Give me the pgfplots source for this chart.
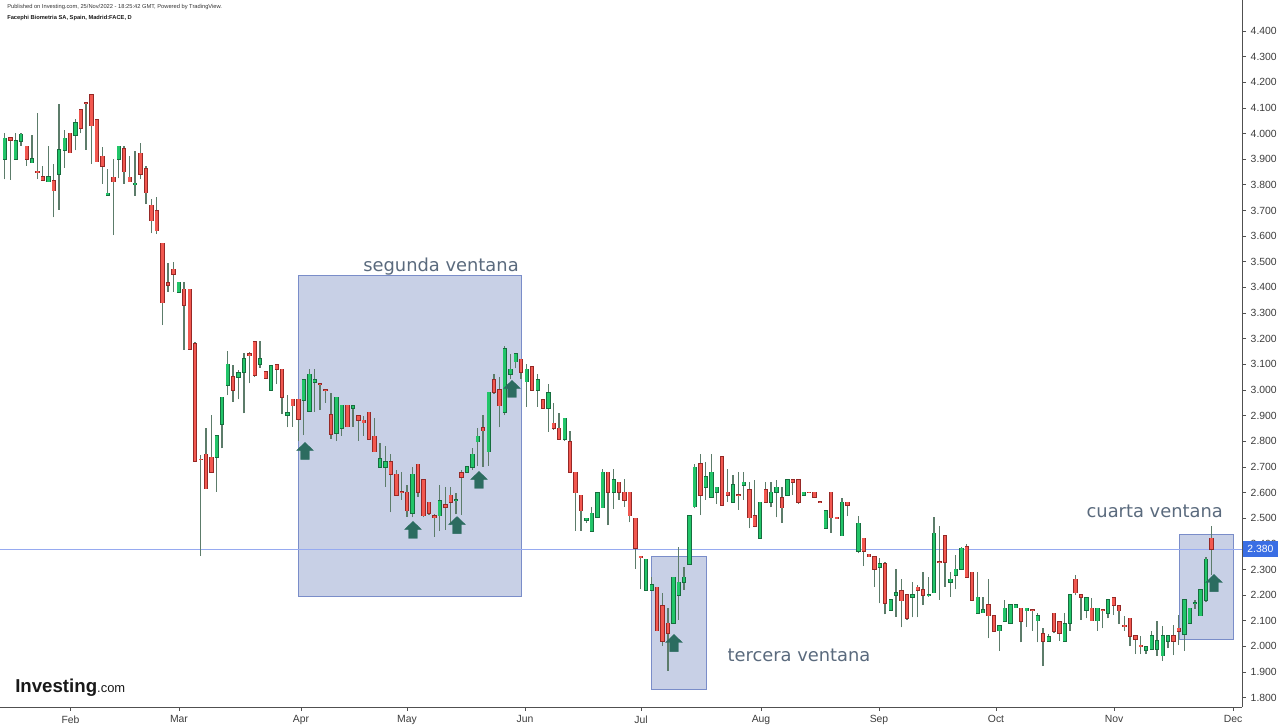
\documentclass[border=0pt]{standalone}
\usepackage{pgfplots}
\pgfplotsset{compat=1.18}
\usepackage{pgfplotstable}
\usepackage{fontspec}
\setmainfont{Liberation Sans}
\newfontfamily\verd{DejaVu Sans}
\definecolor{upfill}{RGB}{34,197,105}
\definecolor{upedge}{RGB}{22,110,62}
\definecolor{dnfill}{RGB}{242,88,80}
\definecolor{dnedge}{RGB}{150,40,38}
\definecolor{wick}{RGB}{92,124,106}
\definecolor{boxfill}{RGB}{200,208,230}
\definecolor{boxedge}{RGB}{122,141,201}
\definecolor{annot}{RGB}{90,106,125}
\definecolor{arrowc}{RGB}{44,108,96}
\definecolor{pricel}{RGB}{150,170,240}
\definecolor{pricebox}{RGB}{58,110,228}
\definecolor{axisc}{RGB}{80,80,80}
\definecolor{ticklab}{RGB}{60,60,60}

\pgfdeclareplotmark{uparr}{%
 \pgfpathmoveto{\pgfqpoint{0pt}{6.4pt}}%
 \pgfpathlineto{\pgfqpoint{6.25pt}{0.4pt}}%
 \pgfpathlineto{\pgfqpoint{3.2pt}{0.4pt}}%
 \pgfpathlineto{\pgfqpoint{3.2pt}{-6.4pt}}%
 \pgfpathlineto{\pgfqpoint{-3.2pt}{-6.4pt}}%
 \pgfpathlineto{\pgfqpoint{-3.2pt}{0.4pt}}%
 \pgfpathlineto{\pgfqpoint{-6.25pt}{0.4pt}}%
 \pgfpathclose
 \pgfusepathqfillstroke}

\pgfplotstableread{
x o h l c
4.7 3.901 4.001 3.821 3.981
10.3 3.983 3.988 3.819 3.975
15.7 3.901 4.001 3.901 3.971
21.0 3.971 4.001 3.953 3.997
26.7 3.950 3.950 3.875 3.901
32.0 3.886 3.994 3.886 3.901
37.3 3.852 4.081 3.821 3.850
42.7 3.830 3.873 3.819 3.819
48.3 3.812 3.951 3.812 3.830
53.7 3.815 3.880 3.673 3.777
59.0 3.841 4.114 3.702 3.936
64.7 3.936 4.014 3.867 3.981
70.0 4.001 4.001 3.925 3.925
75.3 3.993 4.055 3.934 4.042
80.7 4.092 4.092 4.001 4.020
86.0 4.121 4.124 3.936 4.119
91.3 4.150 4.150 3.881 4.031
96.7 4.053 4.053 3.890 3.890
102.3 3.911 3.946 3.804 3.872
107.7 3.760 3.862 3.760 3.767
113.3 3.829 3.901 3.604 3.812
118.7 3.901 3.950 3.825 3.950
124.0 3.940 3.950 3.804 3.851
129.7 3.829 3.912 3.812 3.812
135.0 3.802 3.932 3.758 3.806
140.3 3.923 3.962 3.821 3.841
146.0 3.862 3.875 3.725 3.769
151.3 3.720 3.743 3.611 3.660
156.7 3.699 3.751 3.608 3.621
162.3 3.572 3.572 3.253 3.340
168.0 3.417 3.494 3.383 3.409
173.3 3.471 3.500 3.383 3.451
178.7 3.381 3.420 3.381 3.420
184.0 3.392 3.422 3.156 3.331
189.7 3.392 3.392 3.160 3.160
195.0 3.181 3.188 2.723 2.723
200.7 2.730 2.746 2.352 2.728
206.0 2.749 2.853 2.615 2.615
211.3 2.737 2.901 2.679 2.679
216.7 2.737 2.820 2.603 2.820
222.0 2.866 2.971 2.772 2.971
227.7 3.019 3.153 2.980 3.100
233.0 3.051 3.099 2.954 2.999
238.3 3.049 3.078 2.963 3.067
244.0 3.070 3.143 2.909 3.121
249.3 3.141 3.149 3.026 3.134
254.7 3.187 3.187 3.052 3.058
260.0 3.100 3.191 3.087 3.122
265.7 3.070 3.070 3.045 3.045
271.0 3.000 3.093 3.000 3.093
276.7 3.099 3.101 3.023 3.080
282.0 3.080 3.080 2.906 2.971
287.3 2.901 2.981 2.854 2.911
292.7 2.964 2.964 2.857 2.939
298.3 2.964 2.964 2.802 2.887
303.7 2.961 3.039 2.824 3.039
309.3 2.918 3.080 2.918 3.061
314.7 3.031 3.080 2.915 3.039
320.0 3.024 3.024 2.922 3.022
325.3 3.000 3.000 2.950 2.998
331.0 2.902 2.989 2.810 2.828
336.3 2.831 2.971 2.801 2.971
341.7 2.850 2.940 2.822 2.940
347.3 2.940 2.940 2.854 2.857
353.0 2.928 2.939 2.857 2.939
358.3 2.900 2.900 2.801 2.881
363.7 2.881 2.900 2.822 2.872
369.0 2.913 2.913 2.809 2.809
374.3 2.819 2.891 2.759 2.759
380.0 2.698 2.792 2.698 2.731
385.3 2.698 2.782 2.623 2.720
390.7 2.720 2.749 2.523 2.671
396.3 2.671 2.688 2.590 2.590
401.7 2.602 2.679 2.571 2.600
407.0 2.601 2.628 2.506 2.529
412.3 2.519 2.701 2.503 2.671
418.0 2.710 2.710 2.584 2.601
423.3 2.649 2.649 2.503 2.510
429.0 2.562 2.562 2.512 2.519
434.3 2.510 2.516 2.428 2.502
439.7 2.510 2.628 2.451 2.568
445.3 2.551 2.623 2.454 2.542
450.7 2.589 2.623 2.473 2.562
456.0 2.569 2.600 2.515 2.571
461.3 2.678 2.688 2.512 2.661
467.0 2.679 2.700 2.679 2.700
472.3 2.700 2.772 2.688 2.749
477.7 2.798 2.852 2.705 2.819
483.0 2.852 2.902 2.701 2.841
488.7 2.759 2.991 2.704 2.991
494.0 3.039 3.061 2.984 2.991
499.3 3.000 3.049 2.854 2.939
504.7 2.913 3.172 2.902 3.160
510.3 3.061 3.140 3.042 3.081
515.7 3.110 3.143 3.084 3.140
521.0 3.120 3.120 3.042 3.069
526.7 3.032 3.100 2.935 3.081
532.0 3.091 3.091 3.000 3.000
537.7 3.000 3.061 2.935 3.039
543.0 2.961 2.961 2.926 2.928
548.3 2.928 3.022 2.837 2.990
553.7 2.870 2.950 2.844 2.850
559.0 2.850 2.912 2.809 2.809
564.7 2.808 2.889 2.801 2.889
570.0 2.798 2.841 2.679 2.679
575.3 2.679 2.679 2.451 2.600
581.0 2.589 2.589 2.451 2.529
586.3 2.493 2.499 2.482 2.499
591.7 2.450 2.542 2.447 2.519
597.3 2.503 2.600 2.502 2.600
602.7 2.541 2.690 2.541 2.679
608.0 2.679 2.679 2.473 2.601
613.7 2.601 2.690 2.535 2.649
619.0 2.640 2.640 2.571 2.601
624.3 2.601 2.652 2.545 2.571
629.7 2.601 2.601 2.484 2.510
635.3 2.499 2.499 2.303 2.382
640.7 2.351 2.351 2.222 2.349
646.0 2.220 2.340 2.220 2.340
651.7 2.220 2.269 2.220 2.239
657.0 2.230 2.230 2.061 2.061
662.3 2.157 2.209 2.001 2.021
668.0 2.090 2.148 1.904 2.051
673.3 2.090 2.269 2.090 2.269
678.7 2.200 2.389 2.103 2.250
684.0 2.250 2.311 2.220 2.269
689.3 2.321 2.508 2.321 2.508
694.7 2.545 2.711 2.538 2.698
700.3 2.711 2.749 2.512 2.590
705.7 2.620 2.720 2.571 2.660
711.3 2.581 2.749 2.581 2.679
716.7 2.601 2.620 2.555 2.620
722.0 2.739 2.739 2.551 2.551
727.7 2.601 2.690 2.564 2.590
733.0 2.562 2.668 2.562 2.629
738.3 2.591 2.679 2.532 2.589
743.7 2.629 2.679 2.571 2.640
749.3 2.610 2.640 2.460 2.502
754.7 2.508 2.649 2.464 2.469
760.0 2.421 2.562 2.419 2.562
765.7 2.610 2.640 2.562 2.562
771.0 2.562 2.640 2.542 2.601
776.3 2.601 2.649 2.503 2.620
782.0 2.580 2.620 2.482 2.541
787.3 2.590 2.649 2.590 2.649
792.7 2.649 2.649 2.590 2.640
798.3 2.649 2.649 2.555 2.562
803.7 2.590 2.601 2.590 2.601
809.0 2.601 2.601 2.600 2.600
814.3 2.601 2.601 2.581 2.581
820.0 2.563 2.563 2.561 2.561
825.7 2.460 2.529 2.460 2.529
831.0 2.601 2.601 2.443 2.502
836.7 2.503 2.503 2.501 2.501
842.0 2.432 2.577 2.432 2.562
847.3 2.562 2.562 2.508 2.551
858.3 2.372 2.508 2.363 2.480
863.7 2.421 2.421 2.313 2.372
869.0 2.359 2.359 2.350 2.350
874.3 2.350 2.350 2.233 2.300
879.7 2.309 2.343 2.168 2.321
885.0 2.321 2.330 2.125 2.168
890.7 2.142 2.181 2.142 2.181
896.0 2.200 2.302 2.116 2.209
901.3 2.217 2.263 2.074 2.178
907.0 2.200 2.200 2.103 2.109
912.3 2.191 2.252 2.113 2.200
917.7 2.230 2.239 2.113 2.220
923.0 2.220 2.291 2.161 2.200
928.7 2.199 2.272 2.194 2.201
934.0 2.209 2.503 2.209 2.441
939.3 2.329 2.471 2.181 2.327
945.0 2.432 2.432 2.233 2.328
950.3 2.250 2.291 2.194 2.261
955.7 2.278 2.356 2.222 2.300
961.3 2.300 2.389 2.300 2.382
966.7 2.389 2.399 2.269 2.269
972.0 2.289 2.289 2.181 2.181
977.7 2.129 2.289 2.129 2.191
983.0 2.131 2.194 2.131 2.142
988.3 2.161 2.263 2.031 2.120
994.0 2.120 2.120 2.057 2.060
999.3 2.061 2.081 1.983 2.081
1004.7 2.099 2.181 2.099 2.148
1010.3 2.090 2.161 2.087 2.161
1015.7 2.151 2.161 2.151 2.161
1021.0 2.148 2.148 2.016 2.099
1026.7 2.139 2.148 2.077 2.148
1032.3 2.143 2.143 2.061 2.141
1037.7 2.100 2.129 2.016 2.120
1043.0 2.048 2.070 1.923 2.021
1048.7 2.021 2.048 2.021 2.038
1054.0 2.129 2.129 2.051 2.060
1059.3 2.096 2.096 2.021 2.051
1064.7 2.021 2.129 2.021 2.087
1070.0 2.090 2.200 2.061 2.200
1075.3 2.261 2.278 2.200 2.209
1081.0 2.200 2.200 2.103 2.191
1086.3 2.142 2.190 2.109 2.190
1091.7 2.148 2.190 2.100 2.100
1097.3 2.100 2.148 2.061 2.148
1102.7 2.143 2.143 2.070 2.141
1108.0 2.129 2.181 2.109 2.181
1113.7 2.190 2.190 2.122 2.161
1119.0 2.159 2.159 2.087 2.139
1124.3 2.082 2.120 2.061 2.080
1130.0 2.109 2.109 2.001 2.040
1135.3 2.040 2.040 1.970 2.029
1140.7 2.004 2.040 1.970 2.002
1146.0 1.986 1.999 1.970 1.999
1151.7 1.990 2.061 1.990 2.040
1157.0 1.990 2.100 1.964 2.021
1162.7 1.964 2.079 1.943 2.040
1168.0 2.021 2.040 1.992 2.040
1173.3 2.040 2.083 1.966 2.021
1178.7 2.070 2.122 2.005 2.060
1184.3 2.048 2.181 1.983 2.181
1189.7 2.090 2.148 2.090 2.148
1195.0 2.169 2.181 2.146 2.171
1200.3 2.120 2.220 2.120 2.220
1206.0 2.181 2.350 2.172 2.339
1211.3 2.421 2.469 2.278 2.380
}\candles

\begin{document}
\begin{tikzpicture}
\useasboundingbox (0,0) rectangle (960pt,545.25pt);
\begin{axis}[
  at={(0pt,15pt)}, anchor=south west,
  scale only axis, width=931.5pt, height=530.25pt,
  xmin=0, xmax=1242, ymin=1.76349, ymax=4.52091,
  axis x line*=bottom, axis y line*=right,
  axis line style={-, draw=axisc, line width=0.6pt},
  xtick={70.5,179,301,407,525,641,761,879,996,1114,1233},
  xticklabels={Feb,Mar,Apr,May,Jun,Jul,Aug,Sep,Oct,Nov,Dec},
  ytick={1.8,1.9,2.0,2.1,2.2,2.3,2.4,2.5,2.6,2.7,2.8,2.9,3.0,3.1,3.2,3.3,3.4,3.5,3.6,3.7,3.8,3.9,4.0,4.1,4.2,4.3,4.4},
  scaled y ticks=false,
  y tick label style={/pgf/number format/fixed, /pgf/number format/fixed zerofill, /pgf/number format/precision=3, /pgf/number format/assume math mode=true},
  tick style={draw=axisc, line width=0.5pt},
  tick align=outside, major tick length=3pt,
  ticklabel style={font=\fontsize{7.8}{9}\selectfont, text=ticklab},
  clip=false,
  candle/.style={draw=none, no markers, forget plot},
]
% windows
\draw[fill=boxfill, draw=boxedge, line width=0.7pt] (axis cs:298.3,3.4484) rectangle (axis cs:521.7,2.1964);
\draw[fill=boxfill, draw=boxedge, line width=0.7pt] (axis cs:651.7,2.3497) rectangle (axis cs:706.7,1.8337);
\draw[fill=boxfill, draw=boxedge, line width=0.7pt] (axis cs:1179,2.4382) rectangle (axis cs:1233.3,2.0287);
% price line
\draw[pricel, line width=0.6pt] (axis cs:0,2.38) -- (axis cs:1242,2.38);
% wicks
\addplot[candle,
  error bars/.cd, y dir=plus, y explicit, error mark=none,
  error bar style={line width=0.8pt, draw=wick}]
  table[x=x, y=l, y error plus expr={\thisrow{h}-\thisrow{l}}] {\candles};
% up bodies
\addplot[candle,
  x filter/.expression={\thisrow{c}<\thisrow{o} ? nan : x},
  error bars/.cd, y dir=both, y explicit, error mark=none,
  error bar style={line width=3.3pt, draw=upedge}]
  table[x=x, y expr={(\thisrow{o}+\thisrow{c})/2}, y error expr={abs(\thisrow{c}-\thisrow{o})/2+0.0025}] {\candles};
\addplot[candle,
  x filter/.expression={\thisrow{c}<\thisrow{o} ? nan : x},
  error bars/.cd, y dir=both, y explicit, error mark=none,
  error bar style={line width=2.1pt, draw=upfill}]
  table[x=x, y expr={(\thisrow{o}+\thisrow{c})/2}, y error expr={abs(\thisrow{c}-\thisrow{o})/2}] {\candles};
% down bodies
\addplot[candle,
  x filter/.expression={\thisrow{c}<\thisrow{o} ? x : nan},
  error bars/.cd, y dir=both, y explicit, error mark=none,
  error bar style={line width=3.3pt, draw=dnedge}]
  table[x=x, y expr={(\thisrow{o}+\thisrow{c})/2}, y error expr={abs(\thisrow{c}-\thisrow{o})/2+0.0025}] {\candles};
\addplot[candle,
  x filter/.expression={\thisrow{c}<\thisrow{o} ? x : nan},
  error bars/.cd, y dir=both, y explicit, error mark=none,
  error bar style={line width=2.1pt, draw=dnfill}]
  table[x=x, y expr={(\thisrow{o}+\thisrow{c})/2}, y error expr={abs(\thisrow{c}-\thisrow{o})/2}] {\candles};
% arrows
\addplot[only marks, mark=uparr, mark options={draw=arrowc, fill=arrowc, line width=0.3pt}]
  coordinates {(305,2.762) (413,2.454) (457,2.473) (479,2.649) (512,3.004) (674,2.013) (1214,2.247)};
% annotations
\node[anchor=base, inner sep=0pt, font=\verd\fontsize{13.4}{15}\selectfont, text=annot] at (axis cs:441,3.462) {segunda ventana};
\node[anchor=base, inner sep=0pt, font=\verd\fontsize{13.4}{15}\selectfont, text=annot] at (axis cs:799,1.940) {tercera ventana};
\node[anchor=base, inner sep=0pt, font=\verd\fontsize{13.4}{15}\selectfont, text=annot] at (axis cs:1154.7,2.5045) {cuarta ventana};
% price label
\node[anchor=west, fill=pricebox, text=white, inner sep=0pt, minimum height=12pt, minimum width=26.3pt, font=\fontsize{7.8}{9}\selectfont] at (axis cs:1242.6,2.38) {2.380};
% header
\node[anchor=base west, inner sep=0pt, font=\fontsize{4.3}{5}\selectfont, text=black!80] at (axis cs:7,4.486) {Published on Investing.com, 25/Nov/2022 - 18:25:42 GMT, Powered by TradingView.};
\node[anchor=base west, inner sep=0pt, font=\bfseries\fontsize{4.3}{5}\selectfont, text=black!90] at (axis cs:7,4.443) {Facephi Biometria SA, Spain, Madrid:FACE, D};
% logo
\node[anchor=base west, inner sep=0pt, font=\bfseries\fontsize{14}{16}\selectfont, text=black!90] at (axis cs:15,1.821) {Investing{\fontsize{9.7}{11}\selectfont\mdseries .com}};
\end{axis}
\end{tikzpicture}
\end{document}
